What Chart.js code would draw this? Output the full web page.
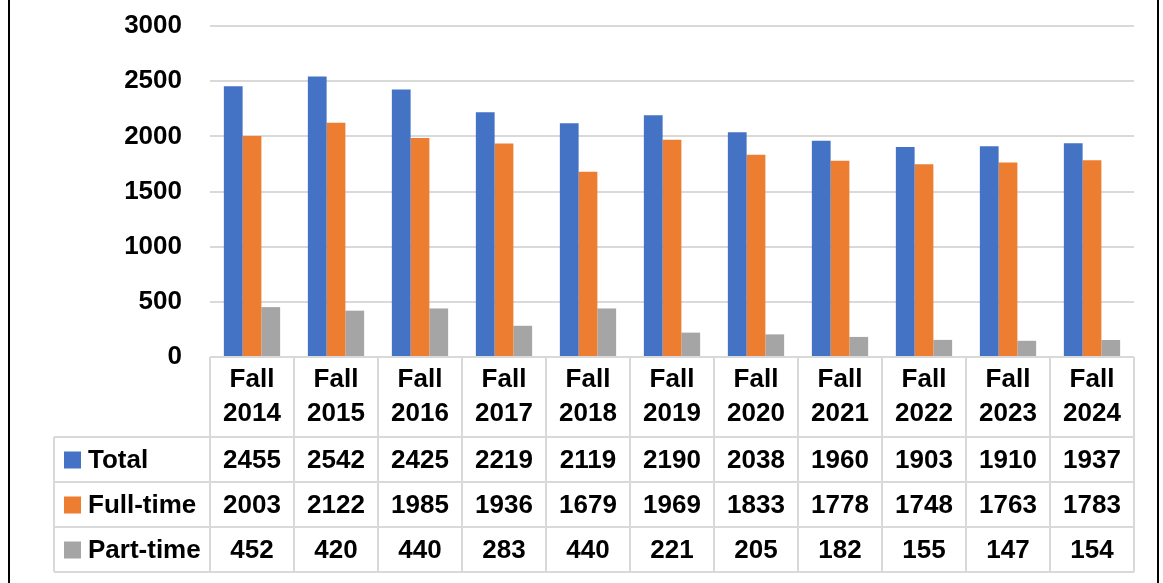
<!DOCTYPE html>
<html>
<head>
<meta charset="utf-8">
<script src="https://cdn.jsdelivr.net/npm/chart.js@4/dist/chart.umd.min.js"></script>
<style>
  html, body { margin: 0; padding: 0; background: #fff; }
  #wrap { width: 1163px; height: 583px; position: relative; }
</style>
</head>
<body>
<div id="wrap"><canvas id="myChart" width="1163" height="583"></canvas></div>
<script>
const years = ['2014', '2015', '2016', '2017', '2018', '2019', '2020', '2021', '2022', '2023', '2024']
const total = [2455, 2542, 2425, 2219, 2119, 2190, 2038, 1960, 1903, 1910, 1937]
const fullTime = [2003, 2122, 1985, 1936, 1679, 1969, 1833, 1778, 1748, 1763, 1783]
const partTime = [452, 420, 440, 283, 440, 221, 205, 182, 155, 147, 154]
const seriesNames = ['Total', 'Full-time', 'Part-time']
const seriesColors = ['#4472C4', '#ED7D31', '#A5A5A5']

const FONT = 'bold 26px "Liberation Sans", Arial, sans-serif'
const lineColor = '#d9d9d9'

// data table under the plot, drawn from the x scale positions
const dataTable = {
    id: 'dataTable',
    afterDraw(chart) {
        const ctx = chart.ctx
        const x = chart.scales.x
        const area = chart.chartArea
        const top = area.bottom
        const headBottom = top + 80
        const rowH = 45
        const tableLeft = 54
        const bottom = headBottom + rowH * 3
        const colW = (area.right - area.left) / years.length
        const rows = [total, fullTime, partTime]

        ctx.save()
        ctx.strokeStyle = lineColor
        ctx.lineWidth = 2
        ctx.beginPath()
        ctx.moveTo(area.left, top); ctx.lineTo(area.right, top)
        for (let r = 0; r <= 3; r++) {
            const y = headBottom + r * rowH
            ctx.moveTo(tableLeft, y); ctx.lineTo(area.right, y)
        }
        ctx.moveTo(tableLeft, headBottom); ctx.lineTo(tableLeft, bottom)
        for (let i = 0; i <= years.length; i++) {
            const xx = area.left + i * colW
            ctx.moveTo(xx, top); ctx.lineTo(xx, bottom)
        }
        ctx.stroke()

        ctx.fillStyle = '#000'
        ctx.font = FONT
        ctx.textAlign = 'center'
        ctx.textBaseline = 'middle'
        years.forEach((yr, i) => {
            const cx = x.getPixelForValue(i)
            ctx.fillText('Fall', cx, top + 23)
            ctx.fillText(yr, cx, top + 57)
            rows.forEach((vals, r) => {
                ctx.fillText(String(vals[i]), cx, headBottom + r * rowH + rowH / 2 + 1)
            })
        })

        ctx.textAlign = 'left'
        seriesNames.forEach((name, r) => {
            const cy = headBottom + r * rowH + rowH / 2
            ctx.fillStyle = seriesColors[r]
            ctx.fillRect(64, cy - 8, 17, 17)
            ctx.fillStyle = '#000'
            ctx.fillText(name, 88, cy + 1)
        })

        // outer frame lines
        ctx.strokeStyle = '#000'
        ctx.lineWidth = 2
        ctx.beginPath()
        ctx.moveTo(9, 0); ctx.lineTo(9, chart.height)
        ctx.moveTo(1158, 0); ctx.lineTo(1158, chart.height)
        ctx.stroke()
        ctx.restore()
    }
}

const ctx = document.getElementById('myChart')
new Chart(ctx, {
    type: 'bar',
    data: {
        labels: years.map(y => 'Fall ' + y),
        datasets: [
            { label: seriesNames[0], data: total, backgroundColor: seriesColors[0] },
            { label: seriesNames[1], data: fullTime, backgroundColor: seriesColors[1] },
            { label: seriesNames[2], data: partTime, backgroundColor: seriesColors[2] }
        ]
    },
    options: {
        responsive: false,
        animation: false,
        layout: { padding: { left: 0, right: 29, top: 26, bottom: 226 } },
        datasets: { bar: { barPercentage: 1, categoryPercentage: 0.67 } },
        plugins: { legend: { display: false }, tooltip: { enabled: false } },
        scales: {
            x: { display: false },
            y: {
                min: 0,
                max: 3000,
                ticks: {
                    stepSize: 500,
                    padding: 28,
                    color: '#000',
                    callback: v => String(v),
                    font: { family: '"Liberation Sans", Arial, sans-serif', size: 26, weight: 'bold' }
                },
                grid: { color: lineColor, lineWidth: 2, drawTicks: false },
                border: { display: false },
                afterFit(scale) {
                    scale.width = 210
                    scale.paddingTop = 0
                    scale.paddingBottom = 0
                }
            }
        }
    },
    plugins: [dataTable]
})
</script>
</body>
</html>
